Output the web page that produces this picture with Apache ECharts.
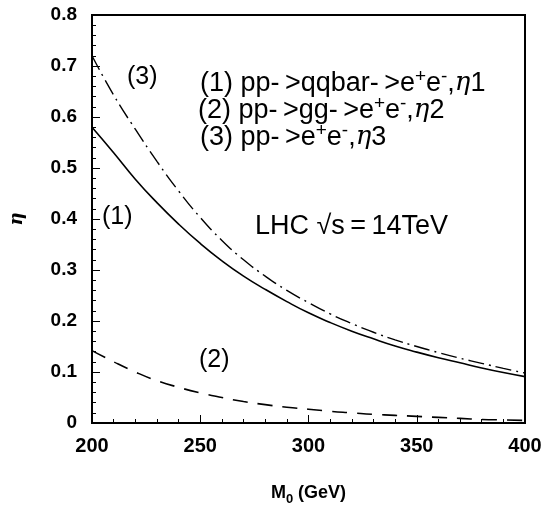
<!DOCTYPE html>
<html>
<head>
<meta charset="utf-8">
<script src="https://cdn.jsdelivr.net/npm/echarts@6/dist/echarts.min.js"></script>
<style>html,body{margin:0;padding:0;background:#fff}#c{width:554px;height:511px}</style>
</head>
<body>
<div id="c"></div>
<script>
const masses = [200,210,220,230,240,250,260,270,280,290,300,310,320,330,340,350,360,370,380,390,400];
const eta1 = [0.58,0.53,0.478,0.432,0.39,0.352,0.318,0.288,0.262,0.238,0.216,0.197,0.18,0.165,0.151,0.139,0.128,0.118,0.108,0.099,0.091];
const eta2 = [0.142,0.12,0.1,0.083,0.07,0.059,0.05,0.042,0.036,0.031,0.027,0.023,0.02,0.017,0.015,0.013,0.011,0.009,0.007,0.006,0.005];
const eta3 = [0.72,0.643,0.576,0.513,0.455,0.403,0.358,0.32,0.288,0.26,0.236,0.214,0.195,0.178,0.163,0.15,0.138,0.127,0.117,0.107,0.098];
const xTicks = [200,250,300,350,400];
const yTicks = [0,0.1,0.2,0.3,0.4,0.5,0.6,0.7,0.8];

const chart = echarts.init(document.getElementById('c'), null, {renderer:'canvas'});
const font = 'Liberation Sans, Arial, Helvetica, sans-serif';
const pair = a => masses.map((m,i)=>[m,a[i]]);
const sup = {fontSize:19, fontFamily:font, color:'#000', padding:[0,0,14,0]};
const sub = {fontSize:13, fontFamily:font, color:'#000', fontWeight:'bold', padding:[13,0,0,0]};
const etaS = {fontSize:26, fontFamily:'DejaVu Serif, serif', fontStyle:'italic', color:'#000'};
const T = '\u2009';

chart.setOption({
  animation:false,
  backgroundColor:'#fff',
  grid:{left:89,right:29,top:15,bottom:80,show:true,borderColor:'#000',borderWidth:2},
  xAxis:{
    type:'value',min:200,max:400,interval:50,
    name:'M{s|0} (GeV)',nameLocation:'middle',nameGap:57,
    nameTextStyle:{fontSize:18,fontWeight:'bold',fontFamily:font,color:'#000',rich:{s:sub}},
    axisLine:{lineStyle:{color:'#000',width:2}},
    axisTick:{inside:true,length:8,lineStyle:{color:'#000',width:1}},
    minorTick:{show:true,splitNumber:5,length:4,lineStyle:{color:'#000',width:1}},
    splitLine:{show:false},
    axisLabel:{fontSize:20,fontWeight:'bold',fontFamily:font,color:'#000',margin:13}
  },
  yAxis:{
    type:'value',min:0,max:0.8,interval:0.1,
    name:'η',nameLocation:'middle',nameGap:66,nameRotate:90,
    nameTextStyle:{fontSize:18,fontWeight:'bold',fontFamily:'DejaVu Serif, serif',fontStyle:'italic',color:'#000'},
    axisLine:{lineStyle:{color:'#000',width:2}},
    axisTick:{inside:true,length:8,lineStyle:{color:'#000',width:1}},
    minorTick:{show:true,splitNumber:5,length:4,lineStyle:{color:'#000',width:1}},
    splitLine:{show:false},
    axisLabel:{fontSize:19,fontWeight:'bold',fontFamily:font,color:'#000',margin:15,
      formatter:v=>{const t=yTicks.find(y=>Math.abs(y-v)<1e-9);return t===undefined?'':String(t);}}
  },
  series:[
    {type:'line',data:pair(eta1),smooth:true,symbol:'none',lineStyle:{color:'#000',width:1.6,type:'solid'}},
    {type:'line',data:pair(eta2),smooth:true,symbol:'none',lineStyle:{color:'#000',width:1.6,type:[15,10]}},
    {type:'line',data:pair(eta3),smooth:true,symbol:'none',lineStyle:{color:'#000',width:1.4,type:[16,5,2,5]}}
  ],
  graphic:[
    {type:'text',left:127,top:65,style:{text:'(3)',font:'25px '+font,fill:'#000'}},
    {type:'text',left:102,top:205,style:{text:'(1)',font:'25px '+font,fill:'#000'}},
    {type:'text',left:199,top:348,style:{text:'(2)',font:'25px '+font,fill:'#000'}},
    {type:'text',left:200,top:67,style:{text:'(1) pp-'+T+'>qqbar-'+T+'>e{s|+}e{s|-},{e|η}1',fontSize:27,fontFamily:font,fill:'#000',rich:{s:sup,e:etaS}}},
    {type:'text',left:198,top:94,style:{text:'(2) pp-'+T+'>gg-'+T+'>e{s|+}e{s|-},{e|η}2',fontSize:27,fontFamily:font,fill:'#000',rich:{s:sup,e:etaS}}},
    {type:'text',left:200,top:121,style:{text:'(3) pp-'+T+'>e{s|+}e{s|-},{e|η}3',fontSize:27,fontFamily:font,fill:'#000',rich:{s:sup,e:etaS}}},
    {type:'text',left:255,top:213,style:{text:'LHC √s'+T+'='+T+'14TeV',fontSize:27,fontFamily:font,fill:'#000'}}
  ]
});
</script>
</body>
</html>
